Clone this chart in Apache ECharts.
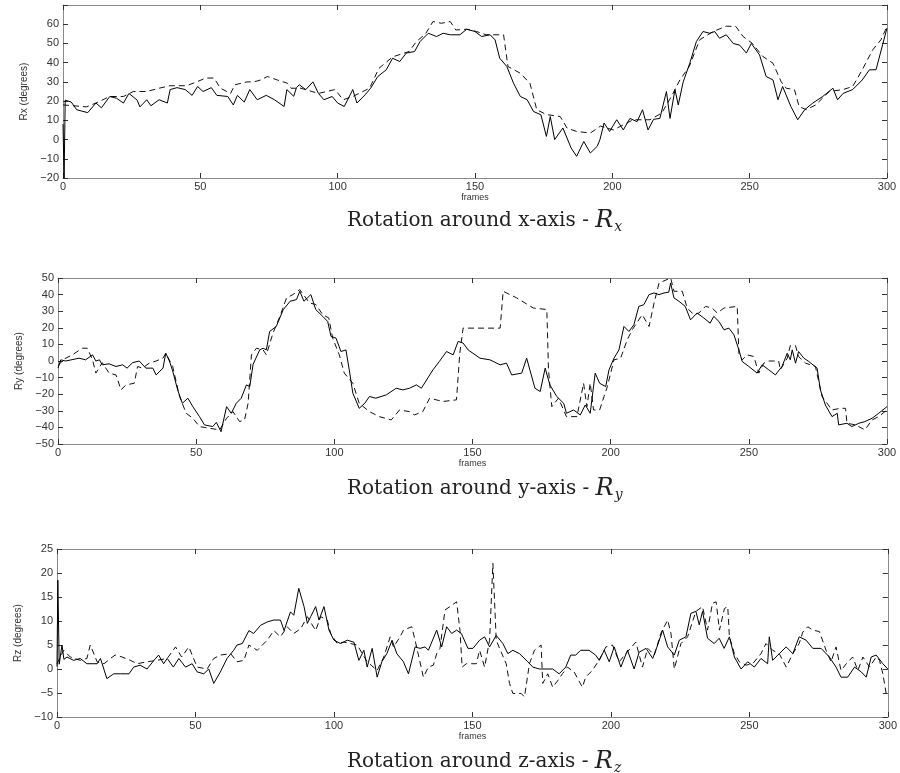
<!DOCTYPE html>
<html>
<head>
<meta charset="utf-8">
<title>Rotation</title>
<script src="https://cdn.jsdelivr.net/npm/echarts@6/dist/echarts.min.js"></script>
</head>
<body style="margin:0;background:#fff">
<div id="main" style="width:900px;height:773px;"></div>
<script type="text/javascript">
// [frame, degrees]
var rxSolid = [[0,8],[0.4,-20],[0.8,20.5],[3,19.5],[5,15.5],[9,14],[12,19],[14,16.5],[17,22.4],[19.5,21.5],[22,19],[24,24],[27,20.5],[28,17],[30.5,20.7],[32,17.6],[35,20.7],[38,19],[39,26],[41.5,27],[44.5,26],[47,23],[49,27.6],[51,25],[54,27],[56,23],[60,22.4],[62,18],[63.5,23],[66,19.5],[68,26],[70.7,20.7],[74,23],[77,20.7],[80.5,17.2],[81.5,26],[84,22.5],[85,27],[86,28.5],[88.4,26],[91,30],[93,24],[95,20.7],[98,22.4],[100,19],[102.4,17.2],[105.5,26],[107,19],[110,23.3],[112,26.7],[114.6,32.8],[117.7,36.3],[120,42.3],[122.6,40.6],[125,45],[128,45.8],[130,51],[133,55.3],[136,53.6],[138.4,55.3],[141,54.5],[144.5,54.5],[147,57.4],[150,56.2],[152.4,53.6],[155.5,54.5],[157.3,51.9],[159,42.3],[161.6,38],[164,29.4],[166.5,22.4],[169,20.7],[171.3,14.6],[174,12.9],[176,1.6],[177.4,12],[179,0],[182,6],[185,-4.4],[187,-8.7],[189.6,-1],[192,-7],[194.5,-3.5],[195.5,0],[197,8.6],[199,4.2],[201.6,10.3],[204,5],[206.4,11],[209,9.3],[211,15.5],[213,5],[215,10.5],[217.3,11],[219.7,25],[221,11],[222.8,26],[224,18],[225.8,30],[228.2,39.7],[230.6,51],[233,56.2],[235.5,55.3],[237.3,56.2],[239,52.7],[241.5,54.5],[244,50],[246.4,49.1],[248.8,45],[250.6,50],[253.6,44],[256,32.8],[258.5,31],[260.3,20.7],[262,27.6],[265,17.2],[267.5,10.3],[270,15.5],[273,19],[276.6,22.4],[280.3,26.7],[282,20.7],[284,24],[287.5,26],[291,31],[293.6,36.3],[296,36.3],[298.4,49.3],[300,58]];
var rxDashed = [[0,18],[3.7,17.6],[8.5,17],[12,19],[17,22.4],[22,22.4],[25.6,25],[30.5,25],[35,26.7],[39,28],[45,28],[49,30.2],[52,32],[55,32],[57.3,26.7],[61,24],[62.6,28.5],[67,30],[69.5,30],[72,31],[74.4,32.8],[78,31],[81.7,29.3],[83,26.7],[86.6,26.7],[93,24],[99,26],[102,20.7],[105.5,22.4],[111.6,26.7],[115,37],[120,43],[126,45.8],[128.7,51],[132,55],[134.7,61.4],[137.8,60.5],[141,61.4],[143,57],[147,57.4],[150.6,56.2],[154,54.5],[160.4,54.5],[162,38],[166.5,34.5],[170,29.3],[172.5,15.5],[176,13],[181,12],[183.5,6],[187,4.2],[192,3.4],[195.7,7],[200.4,5],[207.6,10.3],[213.7,10.3],[218,13.8],[221.5,22.4],[224.6,31],[228,38],[231.8,51.9],[236.7,56.2],[241.5,59],[245,58.8],[247.6,53.6],[251,50],[254.8,43.2],[258.5,39.7],[261.5,30],[263.3,26.7],[266.3,26],[268,17.2],[270.6,15.5],[274,18],[279,25],[284,26],[287.5,27.6],[291,36.3],[294.8,46.7],[297.8,51.9],[300,58.8]];

var rySolid = [[0,-4.3],[1,0.7],[2.8,0],[7.6,1.7],[10,0.7],[12.5,3.7],[13.7,0],[15,0.7],[16,-2.3],[18.5,-1.7],[21,-3.3],[23.4,-2.3],[25,-4.3],[27,-1],[29.4,0],[31.8,-4.3],[34.3,-4.3],[35.5,-8.4],[38,-4.3],[39,4.7],[40.3,0],[41.5,-6],[43.3,-17.4],[45,-25.5],[47,-22.4],[48.8,-27.5],[51.2,-33.5],[53,-38.5],[56,-39.5],[57.3,-37],[59,-42.6],[61,-27.5],[62.7,-31.5],[64.5,-25.5],[66.3,-22.4],[68.2,-14.4],[69.4,-15.4],[70.6,-2],[73,6.7],[74.2,7.7],[75.4,6.7],[76.6,17.8],[79,20.8],[81.5,30.9],[84,36],[86.3,37],[87.5,42],[89,36],[91.5,40],[93.3,30.9],[95.8,26.9],[97.6,23.8],[98.8,14.8],[100.6,13.8],[102.4,5.7],[104.2,6.7],[105.4,-5.3],[106.7,-19.4],[109,-28.5],[111,-25.5],[112.7,-21.4],[115,-22.4],[118.8,-20.4],[122.4,-16.4],[124.8,-17.4],[127.2,-16.4],[129.7,-14.4],[131.5,-16.4],[135.7,-5.3],[138,-0.3],[140.6,5.7],[143,3.7],[144.8,11.8],[146.6,10.8],[148.4,6.7],[152.7,1.7],[156.3,0.7],[160,-2.3],[162.3,-1.3],[164.2,-8.4],[167.8,-7.3],[169.6,1.7],[172.6,-16.4],[174.5,-18.4],[176.3,-4.3],[178,-14.4],[180.5,-21.4],[183,-25.5],[184,-31.5],[186.6,-29.5],[189,-32.5],[190.8,-26.5],[192.6,-31.5],[194.4,-7.3],[196,-13.4],[198.2,-15.4],[199.4,-5.3],[201.2,1.7],[203,6.7],[204.8,20.8],[206.6,17.8],[208.4,21.8],[210.2,32.9],[212,33.9],[213.9,40],[215.7,41],[217.5,40],[219.3,41],[221,41.4],[221.7,47],[222.9,38],[224.7,36],[227,32.9],[228.9,24.8],[231.3,28.9],[233.7,25.9],[236,22.8],[237.3,26.9],[239.2,23.8],[241,18.8],[242.8,19.8],[244.6,15.8],[246.4,6.7],[247.6,-0.3],[250,-3.3],[253,-7.3],[254.8,-2.3],[257.2,-5.3],[259.6,-8.4],[262,-3.3],[263.9,4.7],[265,0.7],[265.7,6.7],[266.9,-1.3],[268,5.7],[269.9,1.7],[271.7,-0.3],[274.7,-4.3],[275.9,-17.4],[277.7,-26.5],[280.1,-33.5],[282,-31.5],[282.5,-38.5],[285.5,-37.5],[287.3,-39.5],[289.8,-37.5],[292,-36.5],[294.6,-34.5],[297,-31.5],[300,-27.5]];
var ryDashed = [[0,-3],[2,1],[5.2,3.7],[8.8,7.7],[10.6,7.7],[12.5,0.7],[13.7,-7.3],[16,-1],[18.5,-7.3],[21,-8.4],[22.8,-17.4],[24.6,-14.4],[27.6,-13.4],[28.8,-3.3],[30.6,-4.3],[33,-1.3],[35.5,0],[38,1.7],[39,4.7],[41.5,-3.3],[44,-21.4],[46.4,-31.5],[48.8,-34.5],[51.2,-39.5],[54.8,-40.5],[58.5,-41.5],[61,-34.5],[63.3,-30.5],[65.7,-36.5],[67.5,-35.5],[68.8,-25.5],[70,3.7],[71.8,7.7],[74.2,6.7],[75.4,3.7],[77.8,16.8],[80.3,26.9],[82.7,38],[85,40],[87.5,43],[91,35],[93.3,34],[95.8,27.9],[98,25.9],[99.4,13.8],[101.8,3.7],[103.6,-7.3],[106.7,-13.4],[109,-25.5],[112.7,-30.5],[116.3,-33.5],[120.6,-35.5],[123.6,-29.5],[127.2,-30.5],[129,-32.5],[132,-30.5],[134.5,-22.4],[139.3,-24.4],[144.2,-23.4],[145.4,4.7],[146.6,19.8],[160,19.8],[161.1,42],[166,38],[172,31.9],[176.9,31],[177.5,-5.3],[178.7,-27.5],[181.1,-22.4],[184,-33.5],[187.8,-33.5],[190.2,-13.4],[191.4,-27.5],[192.6,-13.4],[193.8,-29.5],[196,-29.5],[197.6,-21.4],[198.8,-15.4],[201.2,0.7],[203.6,1.7],[206,12.8],[207.8,18.8],[211.4,27.9],[213.9,20.8],[215.7,34.9],[217.5,47],[221.7,50],[222.9,42],[225.9,42],[227.7,31.9],[230.1,27.9],[231.9,28.9],[234.3,32.9],[236.7,31.9],[238.6,28.9],[241,31.9],[245.8,32.9],[246.4,4.7],[247.6,0.7],[249.4,3.7],[251.8,2.7],[253.6,-7.3],[255.4,-1.3],[257.2,0],[260.8,0],[261.4,-5.3],[263.9,1.7],[265,9.2],[266.9,9.2],[268,2.7],[270.5,-1.3],[274.1,-3.3],[276.5,-21.4],[280.1,-29.5],[283.1,-28.5],[285,-28.5],[285.5,-37.5],[288.6,-38.5],[292,-41.5],[294.6,-35.5],[297,-33.5],[300,-29.5]];

var rzSolid = [[0,0.5],[0.3,18.5],[0.8,1],[1.8,5],[2.5,2],[3.6,2.5],[6,1.8],[8.4,2.2],[10.8,1.1],[14.5,1.1],[15.7,2.2],[18,-2],[20.5,-1],[23,-1],[26,-1],[27.7,0.4],[30,0.8],[32.5,0],[35,1.8],[36.7,2.9],[38.5,1.1],[39.8,2.2],[42,0.4],[44,2.2],[46.4,0.4],[48.8,1.1],[50.6,-0.6],[53,-1],[54.8,0],[56.6,-3],[59,-0.6],[61.4,2.2],[63.8,3.9],[65,5],[66.9,5.3],[69.3,8],[71,7.4],[73.5,9.1],[75.9,9.8],[78.3,10.2],[80.7,10.2],[82,8],[84.3,11.9],[85.5,11.2],[87.3,16.8],[88,17.1],[89.2,13],[90.4,9.5],[91.6,10.9],[93.4,13],[94.6,10.2],[96.4,13],[98.2,8.1],[100,6],[102.4,5.3],[104.8,6],[107.2,5.6],[109,1.8],[110.8,3.9],[112,0.4],[113.8,4.3],[115.6,-1.7],[117.3,1.5],[119.1,3.2],[121,6],[122.7,3.2],[125.1,1.5],[126.9,-1],[129.3,4.6],[131.1,4.3],[132.9,4.6],[134.1,3.9],[137.1,8.1],[138.9,4.6],[140.7,8.8],[142.5,7.4],[144.3,8.1],[146,7.4],[148.4,4.3],[150.2,4.3],[152.6,6],[154.4,6.7],[156.2,4.6],[158.6,7],[161,5.3],[162.8,3.2],[164.6,3.9],[167,3.2],[170,1.5],[171.8,0.4],[174.2,0],[176.6,0],[179,0],[181.3,-1],[183.7,0.4],[185.5,2.9],[187.3,2.9],[189.1,3.9],[192.1,3.9],[194.5,2.9],[195.8,1.8],[197.6,3.9],[199.4,1.5],[201.2,4.6],[203.6,0.4],[206,3.9],[208.4,0],[210.2,3.5],[212.7,4.3],[215.1,2.2],[216.9,5],[218.7,8.1],[220.5,4.6],[222.9,2.9],[224.7,6],[227.1,6.7],[228.9,11.6],[230.7,12],[231.9,9.2],[233.1,12],[234.9,6.4],[237.3,5.3],[239.1,6.4],[240.9,4.3],[242.8,6.7],[244.6,2.5],[247,0],[249.4,1.5],[251.8,0.4],[254.2,2.2],[256.6,1.1],[257.2,6.7],[258.4,1.8],[260.8,3.2],[263.3,4.6],[265.7,3.2],[268,6.7],[270.5,6],[272.9,4.3],[275.9,4.3],[278.9,2.5],[281.3,0.4],[283.1,-1.7],[285.5,-1.7],[288,0.4],[290.4,-0.6],[292.2,-1.7],[294,2.5],[295.8,2.9],[298.2,1.1],[300,0]];
var rzDashed = [[0,1.1],[2.4,3.9],[4.8,2.5],[8.4,1.8],[10.8,2.2],[12,5],[14.5,1.5],[17,1.1],[19.3,2.2],[21,2.9],[23.5,2.5],[26.5,1.8],[29,1.1],[32.5,1.5],[36,1.8],[39.8,2.2],[42.8,4.6],[45,2.5],[47.6,4.6],[50.6,0.4],[54.2,0],[56.6,2.2],[59,2.9],[62.7,3.2],[65,1.5],[67.5,1.8],[69.3,5],[72.3,3.9],[75.9,6],[78.3,8],[80.7,6.7],[83.1,8.8],[85.5,7.4],[88,8.4],[90.4,10.9],[93.4,8],[95.2,10.9],[97.6,10.2],[98.8,7.4],[101.2,5.3],[103.6,5.6],[108.4,5],[112,1.5],[115.6,-0.3],[118,2.5],[120.3,6.7],[121.5,4.6],[123.9,6.7],[125.1,8.1],[128.1,8.8],[129.3,6],[132.3,-1.7],[134.1,0.4],[135.9,0.8],[137.1,3.2],[138.3,4.3],[140.1,12.3],[141.9,13],[144.3,14],[145.5,8.1],[146.3,0.4],[147.8,1.1],[151.4,1.1],[152.6,3.9],[154.4,0.4],[156.2,6],[157.4,22],[158.6,6],[159.8,4.3],[162.2,1.1],[163.4,-3],[164.6,-5.1],[167.6,-5.1],[168.8,-5.8],[170.6,1.1],[172.4,3.9],[174.8,5],[175.4,-3],[177.2,-1],[179,-3.8],[180.7,-2.5],[182.5,-1],[184.3,0.4],[186.7,-0.6],[189.7,-3.8],[190.9,-1.7],[193.3,-0.3],[195.7,1.8],[198.2,4.6],[200.6,5],[203,1.5],[205.4,3.2],[209,5.6],[211.4,0.4],[213.3,4.3],[215.7,2.9],[218,7.4],[220.5,10.2],[221.7,7.4],[222.9,0],[225.3,5.3],[227.7,6.7],[230.7,12],[233.1,13],[234.9,8.1],[236.7,13.7],[238,14],[239.2,8.1],[241,12.6],[242.2,13],[242.8,6.7],[244.6,3.2],[246.4,1.5],[248.8,0.8],[251.2,1.1],[254.2,3.2],[256,5.3],[258.4,3.9],[260.8,3.2],[263.3,0.4],[265.7,3.2],[268,5.3],[269.3,7.7],[271.1,8.8],[272.9,8.1],[275.3,7.8],[277.7,3.9],[279.5,1.5],[281.3,4.6],[283.1,-0.3],[285,1.1],[287.3,2.5],[289.2,-0.3],[291,2.5],[293.4,0.4],[295.8,2.5],[297,1.8],[298.2,-1],[299.4,-5.1],[300,-5.5]];

var yNames = ['Rx (degrees)', 'Ry (degrees)', 'Rz (degrees)'];
var yMins = [-20, -50, -10];
var yMaxs = [70, 50, 25];
var ySteps = [10, 10, 5];
var yLabelMax = [60, 50, 25];
var titleAxis = ['x', 'y', 'z'];

var myChart = echarts.init(document.getElementById('main'));

var boxColor = '#8a8a8a';
var labelFont = {color: '#333', fontSize: 11, fontFamily: 'Liberation Sans'};
var grids = [
  {left: 63, top: 5, right: 13, height: 173},
  {left: 58, top: 278, right: 13, height: 166},
  {left: 57, top: 549, right: 11, height: 168}
];
var titleTops = [203, 471, 744];

var xAxes = [], yAxes = [], series = [], titles = [];
var sets = [[rxSolid, rxDashed], [rySolid, ryDashed], [rzSolid, rzDashed]];

for (var i = 0; i < 3; i++) {
  var lbl = (function (m) {
    return function (v) { return v > m ? '' : String(v).replace('-', '\u2212'); };
  })(yLabelMax[i]);
  xAxes.push({
    gridIndex: i, type: 'value', min: 0, max: 300, interval: 50,
    name: 'frames', nameLocation: 'middle', nameGap: 15,
    nameTextStyle: {color: '#333', fontSize: 9, fontFamily: 'Liberation Sans'},
    axisLine: {onZero: false, lineStyle: {color: boxColor}},
    axisTick: {inside: true, length: 5, lineStyle: {color: '#333'}},
    axisLabel: Object.assign({margin: 3}, labelFont),
    splitLine: {show: false}
  });
  xAxes.push({
    gridIndex: i, type: 'value', position: 'top', min: 0, max: 300, interval: 50,
    axisLine: {onZero: false, lineStyle: {color: boxColor}},
    axisTick: {inside: true, length: 5, lineStyle: {color: '#333'}},
    axisLabel: {show: false}, splitLine: {show: false}
  });
  yAxes.push({
    gridIndex: i, type: 'value', min: yMins[i], max: yMaxs[i], interval: ySteps[i],
    name: yNames[i], nameLocation: 'middle', nameGap: 27,
    nameTextStyle: {color: '#333', fontSize: 10, fontFamily: 'Liberation Sans'},
    axisLine: {show: true, onZero: false, lineStyle: {color: boxColor}},
    axisTick: {show: true, inside: true, length: 5, lineStyle: {color: '#333'}},
    axisLabel: Object.assign({margin: 4, formatter: lbl}, labelFont),
    splitLine: {show: false}
  });
  yAxes.push({
    gridIndex: i, type: 'value', position: 'right', min: yMins[i], max: yMaxs[i], interval: ySteps[i],
    axisLine: {show: true, onZero: false, lineStyle: {color: boxColor}},
    axisTick: {show: true, inside: true, length: 5, lineStyle: {color: '#333'}},
    axisLabel: {show: false}, splitLine: {show: false}
  });
  series.push({
    type: 'line', xAxisIndex: 2 * i, yAxisIndex: 2 * i, data: sets[i][1],
    symbol: 'none', silent: true,
    lineStyle: {color: '#111', width: 1, type: [6, 4]}
  });
  series.push({
    type: 'line', xAxisIndex: 2 * i, yAxisIndex: 2 * i, data: sets[i][0],
    symbol: 'none', silent: true,
    lineStyle: {color: '#000', width: 1}
  });
  titles.push({
    text: 'Rotation around ' + titleAxis[i] + '-axis - {r|R}{s|' + titleAxis[i] + '}',
    left: 342, top: titleTops[i],
    textStyle: {
      color: '#222', fontSize: 20, fontWeight: 'normal', fontFamily: 'DejaVu Serif',
      rich: {
        r: {fontSize: 24, fontStyle: 'italic', fontFamily: 'DejaVu Serif', color: '#222'},
        s: {fontSize: 14, fontStyle: 'italic', fontFamily: 'DejaVu Serif', color: '#222',
            verticalAlign: 'bottom', padding: [12, 0, 0, 1]}
      }
    }
  });
}

var option = {
  backgroundColor: '#fff',
  animation: false,
  title: titles,
  grid: grids,
  xAxis: xAxes,
  yAxis: yAxes,
  series: series
};

myChart.setOption(option);
</script>
</body>
</html>
